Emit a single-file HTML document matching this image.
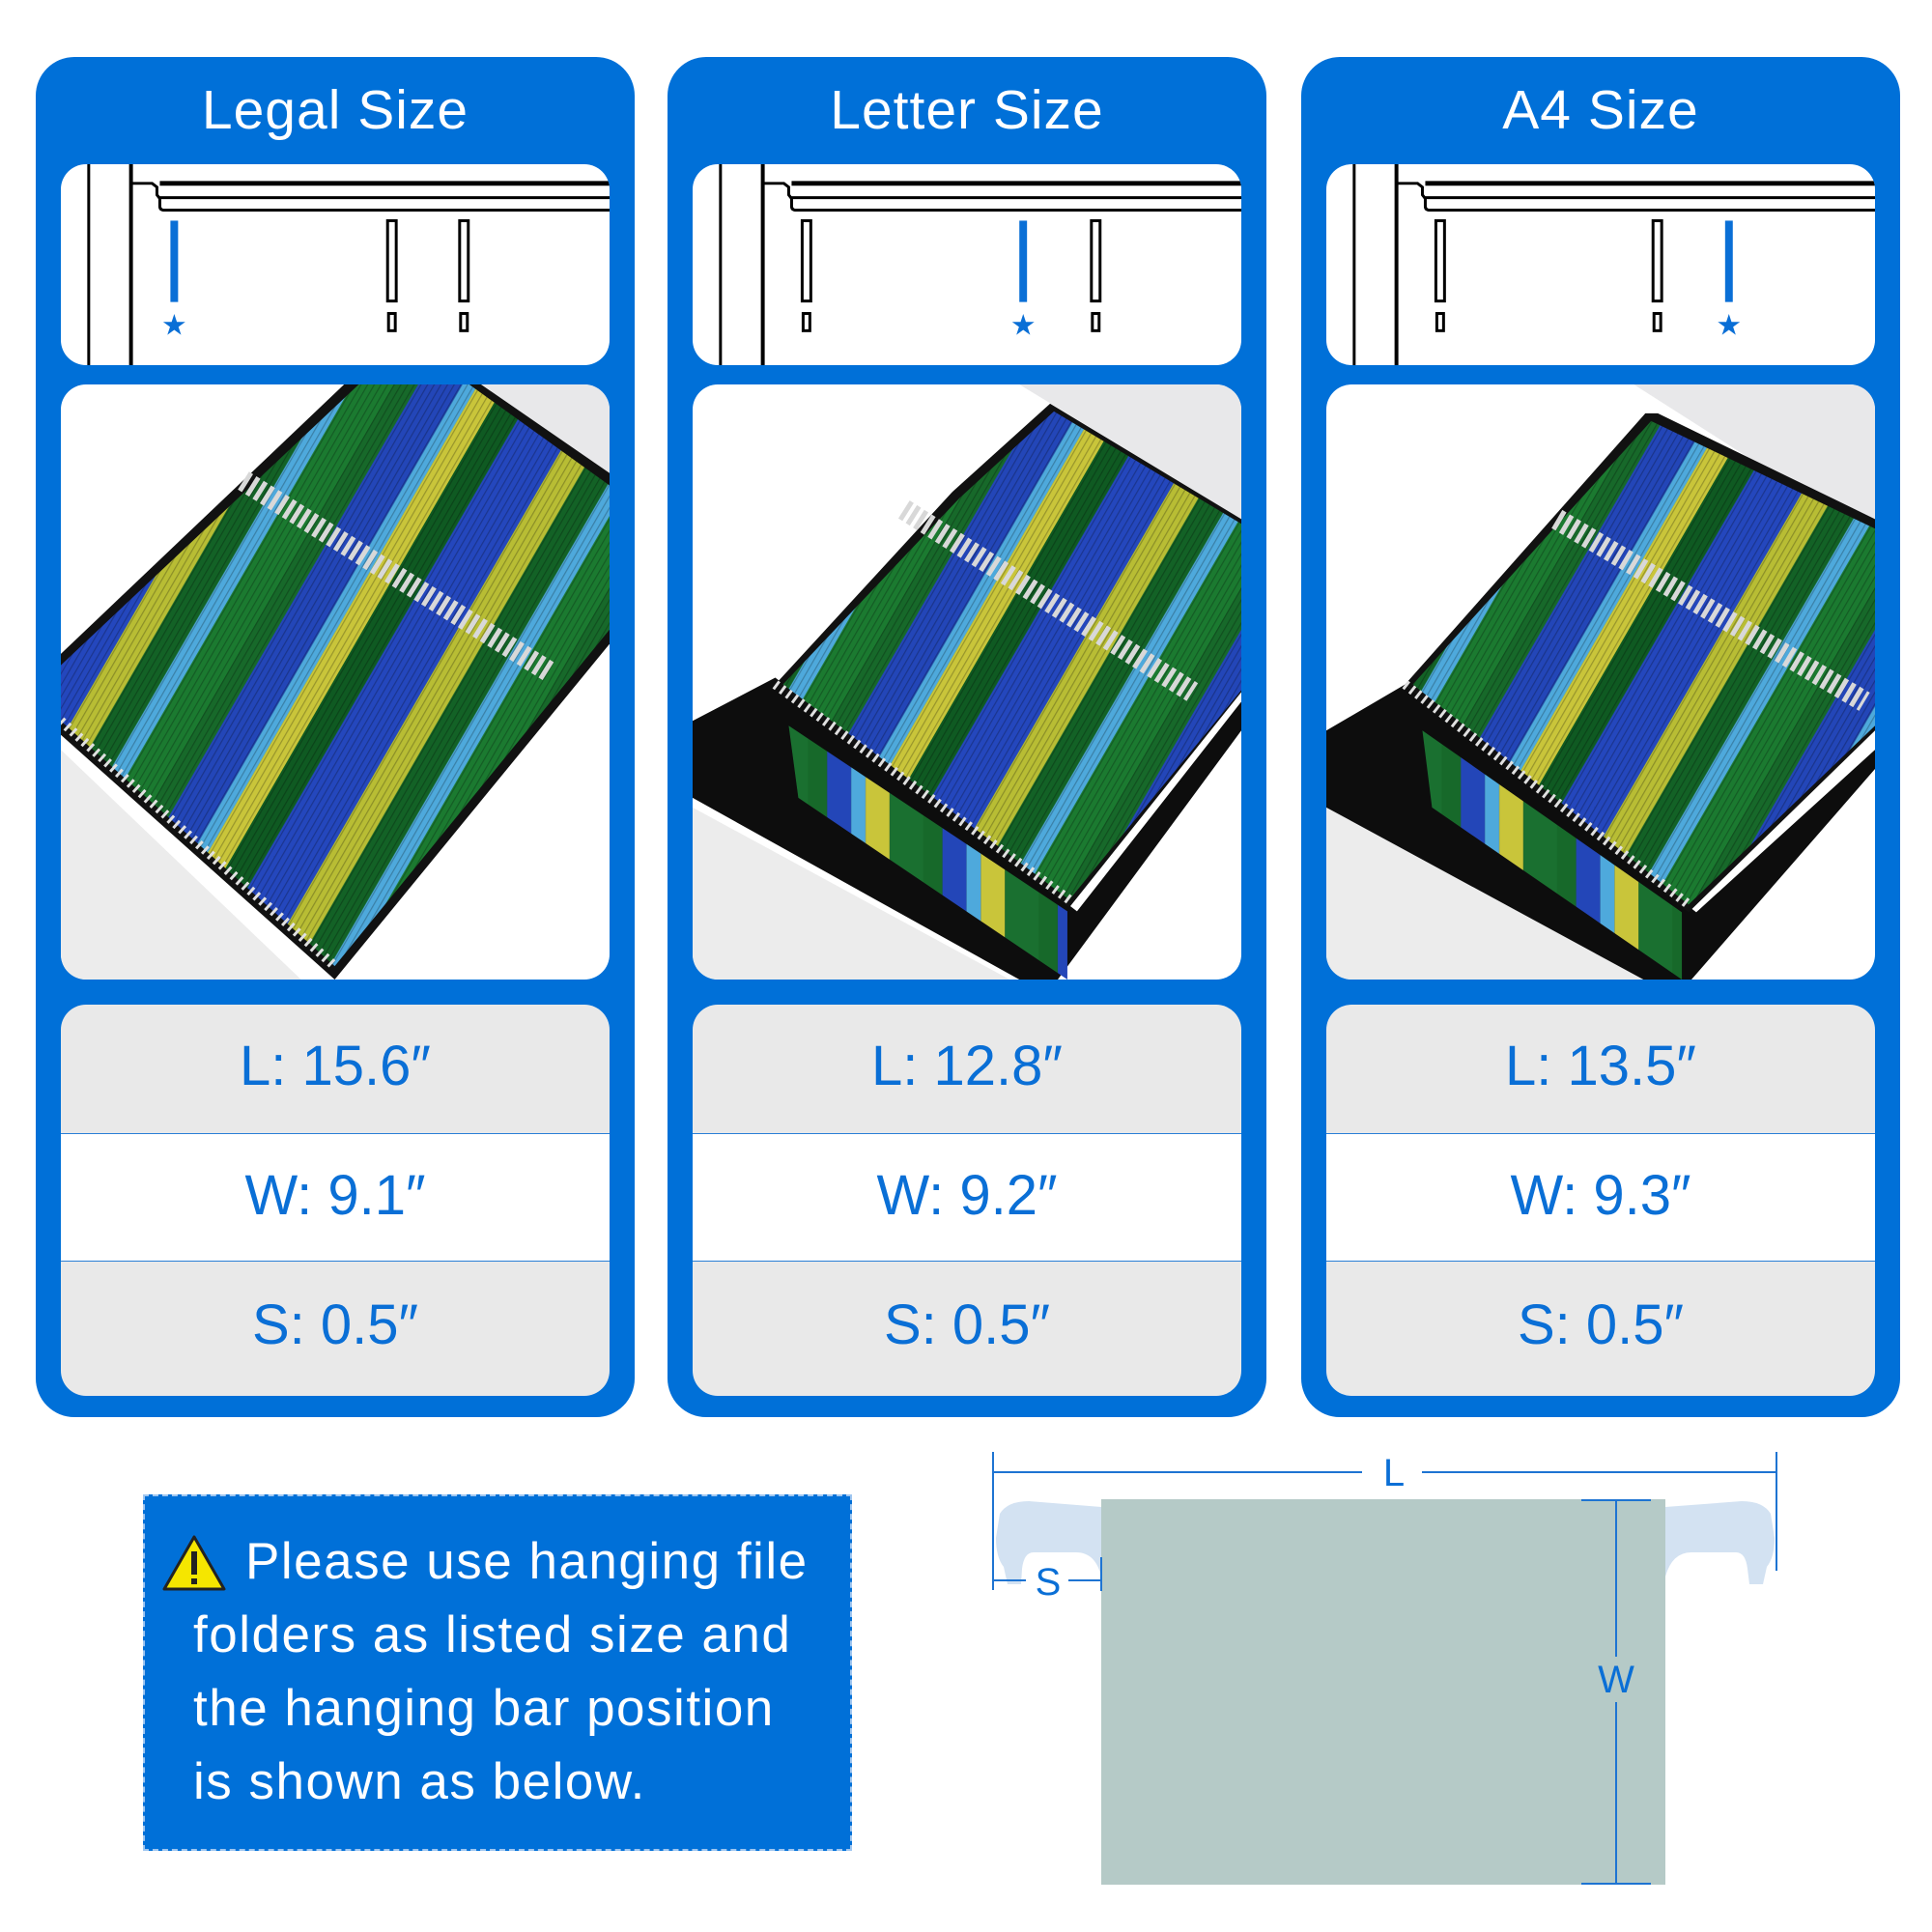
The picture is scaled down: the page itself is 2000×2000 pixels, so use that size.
<!DOCTYPE html>
<html><head><meta charset="utf-8">
<style>
html,body{margin:0;padding:0;background:#fff;}
body{width:2000px;height:2000px;position:relative;overflow:hidden;font-family:"Liberation Sans","DejaVu Sans",sans-serif;}
.panel{position:absolute;top:59px;width:620px;height:1408px;background:#0070d8;border-radius:40px;}
.title{position:absolute;top:20px;left:0;width:100%;text-align:center;color:#fff;font-size:57px;line-height:70px;letter-spacing:1px;}
.bar{position:absolute;left:26px;top:111px;width:568px;height:208px;background:#fff;border-radius:26px;overflow:hidden;}
.img{position:absolute;left:26px;top:339px;width:568px;height:616px;background:#fff;border-radius:26px;overflow:hidden;}
.tbl{position:absolute;left:26px;top:981px;width:568px;height:405px;border-radius:26px;overflow:hidden;background:#e9e9e9;}
.row{position:absolute;left:0;width:100%;text-align:center;color:#0a6fd6;font-size:58px;}
.note{position:absolute;left:148px;top:1547px;width:734px;height:369px;background:#0070d8;border:2px dashed #9fc6f0;box-sizing:border-box;}
.note p{margin:0;position:absolute;color:#fff;font-size:53px;letter-spacing:1.5px;white-space:nowrap;}
svg.f{display:block}
</style></head><body>

<svg width="0" height="0" style="position:absolute">
<defs>
<pattern id="st" patternUnits="userSpaceOnUse" width="300" height="40" patternTransform="rotate(30)">
<rect x="0" y="0" width="300" height="40" fill="#17692a"/>
<rect x="22" y="0" width="40" height="40" fill="#2346b8"/>
<rect x="62" y="0" width="14" height="40" fill="#4ea9dc"/>
<rect x="76" y="0" width="24" height="40" fill="#c9c53a"/>
<rect x="100" y="0" width="30" height="40" fill="#0f5a22"/>
<rect x="130" y="0" width="55" height="40" fill="#2447bd"/>
<rect x="185" y="0" width="30" height="40" fill="#b8bd34"/>
<rect x="215" y="0" width="30" height="40" fill="#136226"/>
<rect x="245" y="0" width="18" height="40" fill="#4ea9dc"/>
<rect x="263" y="0" width="37" height="40" fill="#1b7a30"/>
</pattern>
<pattern id="ln" patternUnits="userSpaceOnUse" width="6" height="40" patternTransform="rotate(30)">
<rect width="1.2" height="40" fill="#000" opacity="0.25"/>
</pattern>
<pattern id="st2" patternUnits="userSpaceOnUse" width="120" height="40">
<rect width="20" height="40" fill="#17692a"/>
<rect x="20" width="25" height="40" fill="#2346b8"/>
<rect x="45" width="15" height="40" fill="#4ea9dc"/>
<rect x="60" width="25" height="40" fill="#c9c53a"/>
<rect x="85" width="35" height="40" fill="#1a7030"/>
</pattern>
</defs>
</svg>

<!-- Panel 1 -->
<div class="panel" style="left:37px;">
  <div class="title">Legal Size</div>
  <div class="bar"><svg class="f" width="568" height="208" viewBox="0 0 571 210" preserveAspectRatio="none">
    <line x1="29" y1="0" x2="29" y2="210" stroke="#000" stroke-width="3"/>
    <line x1="73" y1="0" x2="73" y2="210" stroke="#000" stroke-width="4"/>
    <path d="M73 20 H95 L100 24 V32 L103 36 V44 Q103 48 108 48 H571" fill="none" stroke="#000" stroke-width="3"/>
    <line x1="103" y1="20" x2="571" y2="20" stroke="#000" stroke-width="5"/>
    <line x1="103" y1="35" x2="571" y2="35" stroke="#000" stroke-width="3"/>
    <rect x="114" y="59" width="8" height="85" fill="#0a6fd6"/>
    <text x="118" y="178" font-size="30" fill="#0a6fd6" text-anchor="middle">★</text>
    <rect x="340" y="59" width="9" height="84" fill="#fff" stroke="#000" stroke-width="3"/>
    <rect x="341" y="156" width="7" height="18" fill="#fff" stroke="#000" stroke-width="3"/>
    <rect x="415" y="59" width="9" height="84" fill="#fff" stroke="#000" stroke-width="3"/>
    <rect x="416" y="156" width="7" height="18" fill="#fff" stroke="#000" stroke-width="3"/>
  </svg></div>
  <div class="img"><svg class="f" width="568" height="616" viewBox="0 0 571 619" preserveAspectRatio="none">
    <polygon points="420,0 571,0 571,100" fill="#e8e8ea"/>
    <polygon points="0,380 0,619 250,619" fill="#ececec"/>
    <polygon points="300,-5 430,-5 575,95 575,265 285,619 -5,360 -5,285" fill="#111"/>
    <polygon points="310,0 425,0 571,105 571,255 285,605 0,350 0,292" fill="url(#st)"/>
    <polygon points="310,0 425,0 571,105 571,255 285,605 0,350 0,292" fill="url(#ln)"/>
    <line x1="190" y1="100" x2="510" y2="300" stroke="#d8d8d8" stroke-width="22" stroke-dasharray="5 4"/>
    <line x1="0" y1="350" x2="285" y2="605" stroke="#e0e0e0" stroke-width="10" stroke-dasharray="3 5"/>
  </svg></div>
  <div class="tbl">
    <div style="position:absolute;top:133px;left:0;width:100%;height:131px;background:#fff;border-top:1px solid #2a7fd6;border-bottom:1px solid #2a7fd6;"></div>
    <div class="row" style="top:30px;">L: 15.6″</div>
    <div class="row" style="top:164px;">W: 9.1″</div>
    <div class="row" style="top:298px;">S: 0.5″</div>
  </div>
</div>

<!-- Panel 2 -->
<div class="panel" style="left:691px;">
  <div class="title">Letter Size</div>
  <div class="bar"><svg class="f" width="568" height="208" viewBox="0 0 571 210" preserveAspectRatio="none">
    <line x1="29" y1="0" x2="29" y2="210" stroke="#000" stroke-width="3"/>
    <line x1="73" y1="0" x2="73" y2="210" stroke="#000" stroke-width="4"/>
    <path d="M73 20 H95 L100 24 V32 L103 36 V44 Q103 48 108 48 H571" fill="none" stroke="#000" stroke-width="3"/>
    <line x1="103" y1="20" x2="571" y2="20" stroke="#000" stroke-width="5"/>
    <line x1="103" y1="35" x2="571" y2="35" stroke="#000" stroke-width="3"/>
    <rect x="114" y="59" width="9" height="84" fill="#fff" stroke="#000" stroke-width="3"/>
    <rect x="115" y="156" width="7" height="18" fill="#fff" stroke="#000" stroke-width="3"/>
    <rect x="340" y="59" width="8" height="85" fill="#0a6fd6"/>
    <text x="344" y="178" font-size="30" fill="#0a6fd6" text-anchor="middle">★</text>
    <rect x="415" y="59" width="9" height="84" fill="#fff" stroke="#000" stroke-width="3"/>
    <rect x="416" y="156" width="7" height="18" fill="#fff" stroke="#000" stroke-width="3"/>
  </svg></div>
  <div class="img"><svg class="f" width="568" height="616" viewBox="0 0 571 619" preserveAspectRatio="none">
    <polygon points="340,0 571,0 571,140" fill="#e8e8ea"/>
    <polygon points="0,440 0,619 330,619" fill="#ececec"/>
    <polygon points="0,350 86,305 400,548 571,330 571,360 380,619 340,619 0,430" fill="#0d0d0d"/>
    <polygon points="100,355 390,548 390,619 110,430" fill="url(#st2)"/>
    <polygon points="270,112 372,20 571,140 571,320 392,544 86,312" fill="#111"/>
    <polygon points="278,118 376,28 571,145 571,318 392,536 94,312" fill="url(#st)"/>
    <polygon points="278,118 376,28 571,145 571,318 392,536 94,312" fill="url(#ln)"/>
    <line x1="220" y1="130" x2="520" y2="320" stroke="#d8d8d8" stroke-width="22" stroke-dasharray="5 4"/>
    <line x1="86" y1="312" x2="392" y2="536" stroke="#e0e0e0" stroke-width="10" stroke-dasharray="3 5"/>
  </svg></div>
  <div class="tbl">
    <div style="position:absolute;top:133px;left:0;width:100%;height:131px;background:#fff;border-top:1px solid #2a7fd6;border-bottom:1px solid #2a7fd6;"></div>
    <div class="row" style="top:30px;">L: 12.8″</div>
    <div class="row" style="top:164px;">W: 9.2″</div>
    <div class="row" style="top:298px;">S: 0.5″</div>
  </div>
</div>

<!-- Panel 3 -->
<div class="panel" style="left:1347px;">
  <div class="title">A4 Size</div>
  <div class="bar"><svg class="f" width="568" height="208" viewBox="0 0 571 210" preserveAspectRatio="none">
    <line x1="29" y1="0" x2="29" y2="210" stroke="#000" stroke-width="3"/>
    <line x1="73" y1="0" x2="73" y2="210" stroke="#000" stroke-width="4"/>
    <path d="M73 20 H95 L100 24 V32 L103 36 V44 Q103 48 108 48 H571" fill="none" stroke="#000" stroke-width="3"/>
    <line x1="103" y1="20" x2="571" y2="20" stroke="#000" stroke-width="5"/>
    <line x1="103" y1="35" x2="571" y2="35" stroke="#000" stroke-width="3"/>
    <rect x="114" y="59" width="9" height="84" fill="#fff" stroke="#000" stroke-width="3"/>
    <rect x="115" y="156" width="7" height="18" fill="#fff" stroke="#000" stroke-width="3"/>
    <rect x="340" y="59" width="9" height="84" fill="#fff" stroke="#000" stroke-width="3"/>
    <rect x="341" y="156" width="7" height="18" fill="#fff" stroke="#000" stroke-width="3"/>
    <rect x="415" y="59" width="8" height="85" fill="#0a6fd6"/>
    <text x="419" y="178" font-size="30" fill="#0a6fd6" text-anchor="middle">★</text>
  </svg></div>
  <div class="img"><svg class="f" width="568" height="616" viewBox="0 0 571 619" preserveAspectRatio="none">
    <polygon points="320,0 571,0 571,160" fill="#e8e8ea"/>
    <polygon points="0,440 0,619 330,619" fill="#ececec"/>
    <polygon points="0,360 82,312 385,549 571,380 571,400 380,619 330,619 0,440" fill="#0d0d0d"/>
    <polygon points="100,360 370,549 370,619 110,440" fill="url(#st2)"/>
    <polygon points="332,30 345,30 571,140 571,360 377,549 82,312" fill="#111"/>
    <polygon points="338,38 571,150 571,355 377,541 90,312" fill="url(#st)"/>
    <polygon points="338,38 571,150 571,355 377,541 90,312" fill="url(#ln)"/>
    <line x1="240" y1="140" x2="560" y2="330" stroke="#d8d8d8" stroke-width="22" stroke-dasharray="5 4"/>
    <line x1="82" y1="312" x2="377" y2="541" stroke="#e0e0e0" stroke-width="10" stroke-dasharray="3 5"/>
  </svg></div>
  <div class="tbl">
    <div style="position:absolute;top:133px;left:0;width:100%;height:131px;background:#fff;border-top:1px solid #2a7fd6;border-bottom:1px solid #2a7fd6;"></div>
    <div class="row" style="top:30px;">L: 13.5″</div>
    <div class="row" style="top:164px;">W: 9.3″</div>
    <div class="row" style="top:298px;">S: 0.5″</div>
  </div>
</div>

<!-- Note -->
<div class="note">
  <svg style="position:absolute;left:17px;top:39px" width="68" height="60">
    <polygon points="34,3 65,57 3,57" fill="#f5e600" stroke="#222" stroke-width="3" stroke-linejoin="round"/>
    <rect x="31" y="18" width="6" height="24" fill="#222"/>
    <rect x="31" y="46" width="6" height="6" fill="#222"/>
  </svg>
  <p style="left:104px;top:37px;">Please use hanging file</p>
  <p style="left:50px;top:113px;">folders as listed size and</p>
  <p style="left:50px;top:189px;">the hanging bar position</p>
  <p style="left:50px;top:265px;">is shown as below.</p>
</div>

<!-- Folder diagram -->
<svg style="position:absolute;left:0;top:0" width="2000" height="2000">
  <rect x="1140" y="1552" width="584" height="399" fill="#b5cac7"/>
  <g fill="#d3e2f2">
    <path d="M1035 1567 Q1043 1554 1065 1554 L1140 1560 V1632 Q1134 1607 1114 1607 H1070 Q1060 1607 1058 1624 L1057 1640 H1043 L1039 1622 Q1031 1612 1031 1592 Z"/>
    <path d="M1833 1567 Q1825 1554 1803 1554 L1724 1560 V1632 Q1731 1607 1751 1607 H1797 Q1807 1607 1809 1624 L1811 1640 H1825 L1829 1622 Q1837 1612 1837 1592 Z"/>
  </g>
  <g stroke="#1e74d2" stroke-width="2" fill="none">
    <line x1="1028" y1="1503" x2="1028" y2="1646"/>
    <line x1="1839" y1="1503" x2="1839" y2="1626"/>
    <line x1="1028" y1="1524" x2="1410" y2="1524"/>
    <line x1="1472" y1="1524" x2="1839" y2="1524"/>
    <line x1="1028" y1="1636" x2="1062" y2="1636"/>
    <line x1="1106" y1="1636" x2="1140" y2="1636"/>
    <line x1="1140" y1="1612" x2="1140" y2="1647"/>
    <line x1="1673" y1="1552" x2="1673" y2="1715"/>
    <line x1="1673" y1="1762" x2="1673" y2="1951"/>
    <line x1="1637" y1="1553" x2="1709" y2="1553"/>
    <line x1="1637" y1="1950" x2="1709" y2="1950"/>
  </g>
  <g fill="#0a6fd6" font-family="Liberation Sans, DejaVu Sans, sans-serif" font-size="40" text-anchor="middle">
    <text x="1443" y="1538">L</text>
    <text x="1085" y="1651">S</text>
    <text x="1673" y="1752">W</text>
  </g>
</svg>

</body></html>
